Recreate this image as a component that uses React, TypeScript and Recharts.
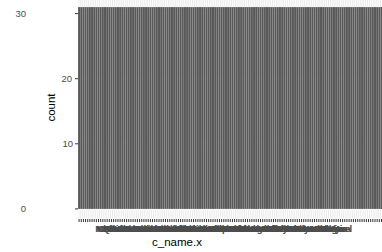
import { BarChart, Bar, XAxis, YAxis, CartesianGrid } from "recharts";

// category names (the labels are unreadable in the source, they overlap into one blob)
const C_NAMES = `
Abra Bela Cora Dima Elko Fara Gino Hale Iris Jova
Kato Lumi Mira Nolo Oska Pria Quin Rosa Sela Tomi
Ulla Vera Wren Xeno Yara Zeta Alto Bova Ceri Dalo
Enzo Fima Gala Hiro Ines Juno Kira Lido Maro Nera
Olin Pavo Rami Sora Tina Ubel Vido Wila Xara Yoni
Zola Amis Bree Caro Dero Emil Fiko Gera Hana Ivo
Jace Koda Lena Moro Nika Odin Pepe Rhea Saba Teo
Uma Vale Wade Yuki Zane Aida Boro Cala Dina Ezra
Fenn Gaia Hugo Ilse Jana Kemi Loki Mina Noor Orla
Pola Riko Sami Tala Urs Vika Wynn Yves Zora Arlo
Beni Cleo Dara Elio Faye Gus Hera Ian Joss Kane
Lara Milo Nadi Otto Pia Remy Sven Tess Ugo Vito
Wima Xia Yael Zeno Ayla Bram Cyra Duke Eden Fritz
Gwen Hans Ida Jory Kai Liv Mads Nell Ozzy Pax
Roan Skye Thea Ulf Voss Wes Yana Zik Ansel Bodo
`.trim().split(/\s+/);

const COUNTS = [
  31, 31, 31, 31, 31, 31, 31, 31, 31, 31,
  31, 31, 31, 31, 31, 31, 31, 31, 31, 31,
  31, 31, 31, 31, 31, 31, 31, 31, 31, 31,
  31, 31, 31, 31, 31, 31, 31, 31, 31, 31,
  31, 31, 31, 31, 31, 31, 31, 31, 31, 31,
  31, 31, 31, 31, 31, 31, 31, 31, 31, 31,
  31, 31, 31, 31, 31, 31, 31, 31, 31, 31,
  31, 31, 31, 31, 31, 31, 31, 31, 31, 31,
  31, 31, 31, 31, 31, 31, 31, 31, 31, 31,
  31, 31, 31, 31, 31, 31, 31, 31, 31, 31,
  31, 31, 31, 31, 31, 31, 31, 31, 31, 31,
  31, 31, 31, 31, 31, 31, 31, 31, 31, 31,
  31, 31, 31, 31, 31, 31, 31, 31, 31, 31,
  31, 31, 31, 31, 31, 31, 31, 31, 31, 31,
  31, 31, 31, 31, 31, 31, 31, 31, 31, 31,
];

const Y_TICKS = [0, 10, 20, 30];
// the source draws 0 and 30 further left than 10 and 20
const Y_LABEL_SHIFT: Record<number, number> = { 0: -47, 10: 0, 20: -1, 30: -47 };

const FONT = "'Liberation Sans', Arial, sans-serif";

const data = C_NAMES.map((name, i) => ({ name, count: COUNTS[i] }));

function YTick({ x, y, payload }: any) {
  return (
    <text
      x={x + (Y_LABEL_SHIFT[payload.value] ?? 0)}
      y={y}
      dy="0.35em"
      textAnchor="end"
      fill="#4D4D4D"
      fontSize={9.5}
      fontFamily={FONT}
    >
      {payload.value}
    </text>
  );
}

function XTick({ x, y, payload }: any) {
  if (x < 104 || x > 344) return <g />;
  return (
    <text
      x={x}
      y={y + 1}
      dy="0.71em"
      textAnchor="middle"
      fill="#4D4D4D"
      fontSize={9.5}
      fontWeight="bold"
      fontFamily={FONT}
    >
      {payload.value}
    </text>
  );
}

export default function App() {
  return (
    <div
      style={{
        position: "absolute",
        left: 0,
        top: 0,
        width: 382,
        height: 252,
        overflow: "hidden",
        background: "#fff",
        fontFamily: FONT,
      }}
    >
      <div style={{ position: "absolute", left: 0, top: -3 }}>
        <BarChart
          width={402}
          height={255}
          data={data}
          margin={{ top: 0, right: 0, bottom: 0, left: 0 }}
          barCategoryGap="4%"
        >
          <CartesianGrid fill="#EBEBEB" stroke="#FFFFFF" strokeWidth={1} />
          <XAxis
            dataKey="name"
            interval={0}
            height={33}
            axisLine={false}
            tickSize={3}
            tickMargin={2}
            tickLine={{ stroke: "#333333" }}
            tick={<XTick />}
          />
          <YAxis
            type="number"
            width={78}
            domain={[-1.55, 32.55]}
            allowDataOverflow
            ticks={Y_TICKS}
            axisLine={false}
            tickSize={3}
            tickMargin={2}
            tickLine={{ stroke: "#333333" }}
            tick={<YTick />}
          />
          <Bar dataKey="count" fill="#595959" isAnimationActive={false} />
        </BarChart>
      </div>
      <div
        style={{
          position: "absolute",
          left: 21,
          top: 101,
          width: 60,
          textAlign: "center",
          fontSize: 11.5,
          lineHeight: "13px",
          color: "#000",
          transform: "rotate(-90deg)",
        }}
      >
        count
      </div>
      <div
        style={{
          position: "absolute",
          left: 127,
          top: 236,
          width: 100,
          textAlign: "center",
          fontSize: 11.5,
          lineHeight: "13px",
          color: "#000",
        }}
      >
        c_name.x
      </div>
    </div>
  );
}
